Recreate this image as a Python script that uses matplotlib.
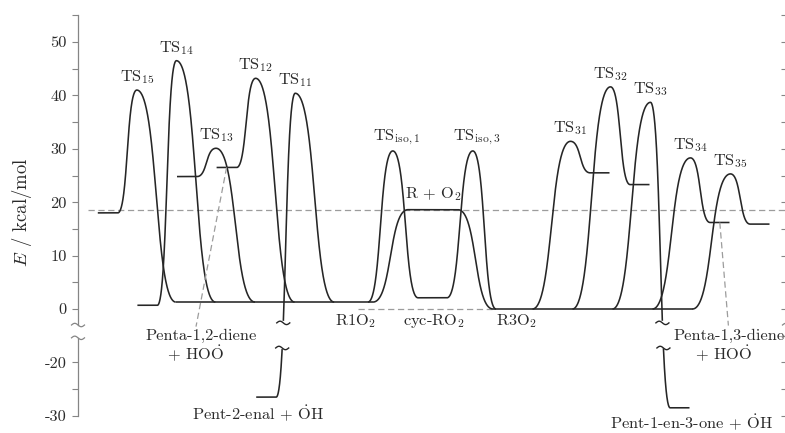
import numpy as np
import matplotlib
matplotlib.use("Agg")
import matplotlib.pyplot as plt

plt.rcParams.update({
    "font.family": ["cmr10", "DejaVu Serif"],
    "mathtext.fontset": "cm",
    "axes.unicode_minus": False,
    "axes.formatter.use_mathtext": True,
    "lines.scale_dashes": False,
})

# ---------------- energies in kcal/mol ----------------
E_R_O2 = 18.6      # R + O2 entrance
E_R1O2 = 1.3
E_CYC = 2.1
E_R3O2 = 0.0
iso_ts = [29.6, 29.6]
iso_labels = [r"TS$_{\mathrm{iso},1}$", r"TS$_{\mathrm{iso},3}$"]

# channels out of R1O2 (left to right)
left_labels = [r"TS$_{15}$", r"TS$_{14}$", r"TS$_{13}$", r"TS$_{12}$", r"TS$_{11}$"]
left_ts = [41.0, 46.5, 30.1, 43.2, 40.4]
left_prod = [18.0, 0.7, 24.8, 26.5, -26.5]

# channels out of R3O2 (left to right)
right_labels = [r"TS$_{31}$", r"TS$_{32}$", r"TS$_{33}$", r"TS$_{34}$", r"TS$_{35}$"]
right_ts = [31.4, 41.6, 38.7, 28.3, 25.3]
right_prod = [25.5, 23.3, -28.5, 16.2, 15.9]

ytick_true = [-30, -20, 0, 10, 20, 30, 40, 50]
yminor_true = [-25, 5, 15, 25, 35, 45, 55]

# ---------------- axis break ----------------
SHIFT = 10.0                 # energies below the break are drawn 10 kcal/mol higher
GAP_CURVE = (-7.3, -2.6)     # hidden part of curves crossing the break
GAP_SPINE = (-5.4, -3.0)


def disp(e):
    e = np.asarray(e, dtype=float)
    return np.where(e < -5, e + SHIFT, e)


A_CTRL = 0.55   # horizontal control-point offset, fraction of the x span


def bez(x0, y0, x1, y1, a0=A_CTRL, a1=A_CTRL, n=160):
    """Cubic curve with horizontal tangents at both ends."""
    t = np.linspace(0.0, 1.0, n)
    fx = a0 * 3 * (1 - t) ** 2 * t + (1 - a1) * 3 * (1 - t) * t ** 2 + t ** 3
    x = x0 + (x1 - x0) * fx
    y = y0 + (y1 - y0) * (3 * t ** 2 - 2 * t ** 3)
    return x, y


def path(pieces):
    xs, ys = [], []
    for x, y in pieces:
        xs.append(np.asarray(x, float))
        ys.append(np.asarray(y, float))
    return np.concatenate(xs), np.concatenate(ys)


CURVE = dict(color="#262626", lw=1.15, solid_capstyle="butt")
DASH = dict(color="#9c9c9c", lw=0.9, dashes=(4.5, 2.6))
TXT = "#2a2a2a"
GREY = "#858585"
FS = 11.8

fig = plt.figure(figsize=(7.85, 4.33), dpi=100)
x_left_px, x_right_px, px_per_u = 78.0, 781.0, 40.0
ax = fig.add_axes([x_left_px / 785, 0.0, (x_right_px - x_left_px) / 785, 1.0])
ax.set_xlim(0, (x_right_px - x_left_px) / px_per_u)
ax.set_ylim((309 - 433) / 5.34, 309 / 5.34)

u_px = 1.0 / px_per_u   # one pixel in x data units
e_px = 1.0 / 5.34       # one pixel in energy units


def tilde(xc, yc, color=GREY, lw=0.9, w=6.5, amp=1.7):
    t = np.linspace(-np.pi, np.pi, 40)
    ax.plot(xc + t / np.pi * w * u_px, yc - amp * e_px * np.sin(t),
            color=color, lw=lw, clip_on=False)


def draw_broken(x, y):
    lo, hi = GAP_CURVE
    yy = y.copy()
    yy[(y > lo) & (y < hi)] = np.nan
    ax.plot(x, yy, **CURVE)
    for lvl in (hi, lo):
        idx = np.where(np.diff(np.sign(y - lvl)) != 0)[0]
        for k in idx:
            ya, yb = y[k], y[k + 1]
            xa, xb = x[k], x[k + 1]
            xc = xa + (lvl - ya) / (yb - ya) * (xb - xa)
            tilde(xc, lvl, color=CURVE["color"], lw=1.0)


# ---------------- reference dashed lines ----------------
ax.plot([0.25, 17.7], [E_R_O2, E_R_O2], clip_on=False, **DASH)
ax.plot([7.0, 10.35], [E_R3O2, E_R3O2], **DASH)

# ---------------- R1O2 side ----------------
left_peaks = 1.47 + 0.99 * np.arange(len(left_ts))
for xp, ts, pr, lab in zip(left_peaks, left_ts, left_prod, left_labels):
    yp = float(disp(pr))
    x, y = path([
        ([xp - 0.975, xp - 0.475], [yp, yp]),
        bez(xp - 0.475, yp, xp, ts),
        bez(xp, ts, xp + 0.975, E_R1O2),
    ])
    draw_broken(x, y)
    ax.annotate(lab, (xp, ts), xytext=(0, 3), textcoords="offset points",
                ha="center", va="bottom", fontsize=FS, color=TXT)

# R1O2 well
ax.plot([left_peaks[0] + 0.975, 7.375], [E_R1O2, E_R1O2], **CURVE)

# ---------------- R + O2 entrance and isomerisations ----------------
x, y = path([
    bez(7.375, E_R1O2, 8.25, E_R_O2),
    ([8.25, 9.5], [E_R_O2, E_R_O2]),
    bez(9.5, E_R_O2, 10.375, E_R3O2),
])
ax.plot(x, y, **CURVE)
ax.annotate("R + O$_2$", (8.875, E_R_O2), xytext=(0, 4.5), textcoords="offset points",
            ha="center", va="bottom", fontsize=FS, color=TXT)

iso_peaks = [7.87, 9.87]
x, y = path([
    bez(7.25, E_R1O2, iso_peaks[0], iso_ts[0]),
    bez(iso_peaks[0], iso_ts[0], 8.5, E_CYC),
    ([8.5, 9.225], [E_CYC, E_CYC]),
    bez(9.225, E_CYC, iso_peaks[1], iso_ts[1]),
    bez(iso_peaks[1], iso_ts[1], 10.45, E_R3O2),
])
ax.plot(x, y, **CURVE)
for xp, ts, lab in zip(iso_peaks, iso_ts, iso_labels):
    ax.annotate(lab, (xp, ts), xytext=(3, 3), textcoords="offset points",
                ha="center", va="bottom", fontsize=FS, color=TXT)

# ---------------- R3O2 side ----------------
right_peaks = 12.3125 + 1.0 * np.arange(len(right_ts))
ax.plot([10.375, right_peaks[-1] - 0.95], [E_R3O2, E_R3O2], **CURVE)
for xp, ts, pr, lab in zip(right_peaks, right_ts, right_prod, right_labels):
    yp = float(disp(pr))
    x, y = path([
        bez(xp - 0.95, E_R3O2, xp, ts),
        bez(xp, ts, xp + 0.49, yp),
        ([xp + 0.49, xp + 0.975], [yp, yp]),
    ])
    draw_broken(x, y)
    ax.annotate(lab, (xp, ts), xytext=(0, 3), textcoords="offset points",
                ha="center", va="bottom", fontsize=FS, color=TXT)

# ---------------- leader lines to product labels ----------------
ax.plot([left_peaks[3] - 0.725, 2.95], [float(disp(left_prod[3])), -3.3], **DASH)
ax.plot([right_peaks[3] + 0.7325, 16.26], [float(disp(right_prod[3])), -3.1],
        clip_on=False, **DASH)

# ---------------- species labels ----------------
kw = dict(ha="center", va="baseline", fontsize=FS, color=TXT, clip_on=False)
ax.text(6.925, -3.0, "R1O$_2$", **kw)
ax.text(8.9, -3.0, "cyc-RO$_2$", **kw)
ax.text(10.95, -3.0, "R3O$_2$", **kw)
ax.text(3.09, -5.8, "Penta-1,2-diene", **kw)
ax.text(2.94, -9.55, r"+ HO$\dot{\mathrm{O}}$", **kw)
ax.text(4.5, -20.8, r"Pent-2-enal + $\dot{\mathrm{O}}$H", **kw)
ax.text(16.27, -5.8, "Penta-1,3-diene", **kw)
ax.text(16.14, -9.55, r"+ HO$\dot{\mathrm{O}}$", **kw)
ax.text(15.33, -22.5, r"Pent-1-en-3-one + $\dot{\mathrm{O}}$H", **kw)

# ---------------- y axis with break ----------------
for s in ax.spines.values():
    s.set_visible(False)
ax.set_xticks([])
ax.set_yticks(disp(ytick_true))
ax.set_yticklabels([str(v) for v in ytick_true])
ax.set_yticks(disp(yminor_true), minor=True)
ax.tick_params(axis="y", which="both", direction="out", length=4.4, width=0.8,
               color=GREY, left=True, right=True, labelright=False,
               labelsize=FS, labelcolor=TXT, pad=3.6)

ytr = ax.get_yaxis_transform()
top = float(disp(yminor_true[-1]))
bot = float(disp(ytick_true[0]))
ax.plot([0, 0], [GAP_SPINE[1], top], transform=ytr, color=GREY, lw=0.9, clip_on=False)
ax.plot([0, 0], [bot, GAP_SPINE[0]], transform=ytr, color=GREY, lw=0.9, clip_on=False)
for yb in GAP_SPINE:
    tilde(0.0, yb)
    tilde(ax.get_xlim()[1] + 8 * u_px, yb)

fig.text(21.7 / 785, (433 - 212) / 433, r"$E$ / kcal/mol", rotation=90,
         ha="center", va="center", fontsize=13.5, color=TXT)

fig.savefig("out.png", dpi=100)
